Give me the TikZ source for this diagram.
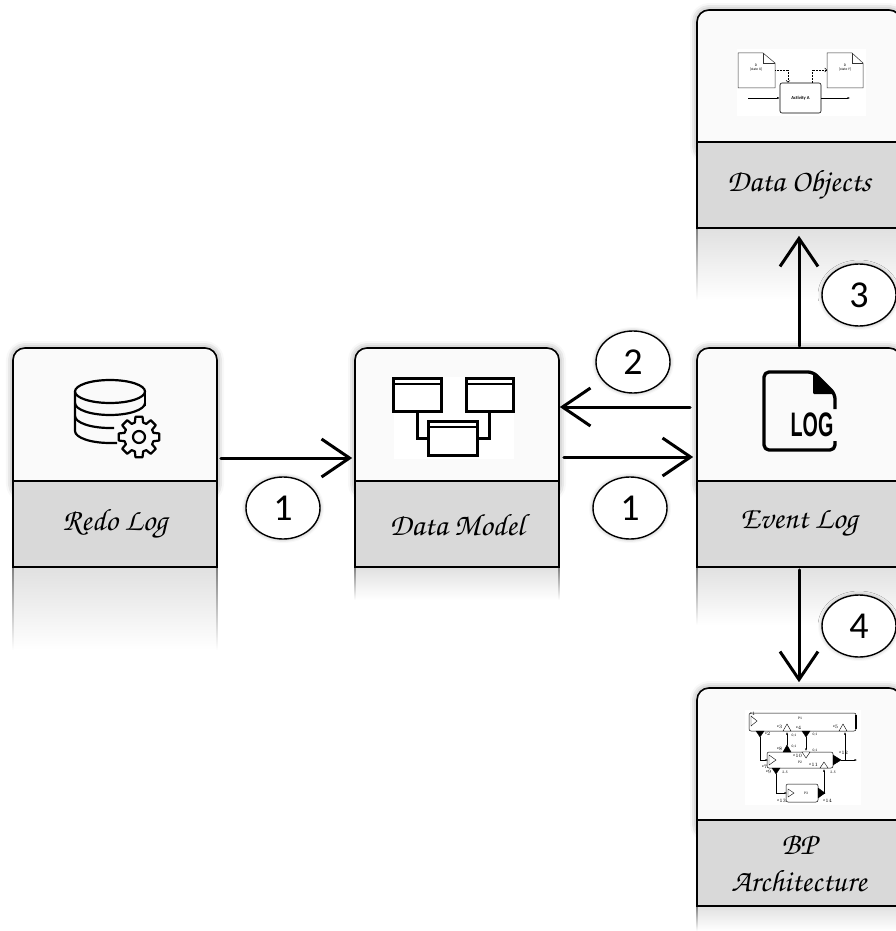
\documentclass[tikz,border=0pt]{standalone}
\usepackage{fontspec}
\setsansfont{Carlito}
\newfontfamily\logfont{Liberation Sans}
\usepackage{graphicx}
\usetikzlibrary{arrows.meta, shapes.geometric, shadows.blur}
\newcommand{\handfont}{\fontencoding{OT1}\fontfamily{pzc}\fontseries{mb}\fontshape{it}\fontsize{31}{37}\selectfont}
\newcommand{\tinyfont}{\sffamily\fontsize{3.6}{4}\selectfont}

\tikzset{
  card/.style={draw, line width=1.6pt, fill=black!2, rounded corners=12pt,
    minimum width=204pt, minimum height=148pt,
    blur shadow={shadow xshift=0pt, shadow yshift=0pt, shadow blur radius=7pt, shadow opacity=45}},
  cardlabel/.style={draw, line width=1.6pt, fill=black!15, minimum width=204pt,
    minimum height=86pt, inner sep=0pt, align=center, font=\handfont},
  mirror/.style={top color=black!12, bottom color=white},
  mirrorside/.style={top color=black!50, bottom color=white},
  badge/.style={draw, ellipse, line width=1.4pt, fill=white, minimum width=74pt,
    minimum height=62pt, inner sep=0pt, font=\sffamily\fontsize{38}{38}\selectfont,
    blur shadow={shadow xshift=0pt, shadow yshift=0pt, shadow blur radius=4pt, shadow opacity=35}},
  flow/.style={line width=3pt, line cap=round, -{Straight Barb[length=28pt, width=38pt]}},
  tinyarrow/.style={line width=0.4pt, -{Latex[length=2.5pt, width=2pt]}},
  dotarrow/.style={line width=0.5pt, densely dotted, -{Straight Barb[length=2pt, width=4pt]}},
  tri/.style={line width=0.4pt, draw, fill=black},
  otri/.style={line width=0.4pt, draw, fill=white},
}

\begin{document}
\begin{tikzpicture}[x=1pt, y=-1pt]
\useasboundingbox (0,0) rectangle (895,931);

% reflections under the cards
\shade[mirror] (13,567) rectangle (217,650);
\shade[mirrorside] (12.2,567) rectangle (13.8,650);
\shade[mirrorside] (216.2,567) rectangle (217.8,650);
\shade[mirror] (355,567) rectangle (559,600);
\shade[mirrorside] (354.2,567) rectangle (355.8,600);
\shade[mirrorside] (558.2,567) rectangle (559.8,600);
\shade[mirror] (697,567) rectangle (901,625);
\shade[mirrorside] (696.2,567) rectangle (697.8,625);
\shade[mirror] (697,228) rectangle (901,300);
\shade[mirrorside] (696.2,228) rectangle (697.8,300);
\shade[mirror] (697,906) rectangle (901,931);
\shade[mirrorside] (696.2,906) rectangle (697.8,931);

% cards
\node[card] (redo) at (115,422) {};
\node[card] (dm) at (457,422) {};
\node[card] (evt) at (799,422) {};
\node[card] (dobj) at (799,84) {};
\node[card] (bp) at (799,762) {};
\node[cardlabel] (redolbl) at (115,524) {Redo Log};
\node[cardlabel] (dmlbl) at (457,524) {Data Model};
\node[cardlabel] (evtlbl) at (799,524) {Event Log};
\node[cardlabel] (dobjlbl) at (799,185) {Data Objects};
\node[cardlabel] (bplbl) at (799,863) {BP\\Architecture};

% database with gear
\begin{scope}[line width=2.2pt]
  \draw (110,391.5) ellipse[x radius=35, y radius=11.5];
  \draw (75,391.5) -- (75,431) arc[start angle=180, end angle=90, x radius=35, y radius=12] -- (117,443);
  \draw (75,403) arc[start angle=180, end angle=0, x radius=35, y radius=12];
  \draw (145,391.5) -- (145,406);
  \draw (75,416) arc[start angle=180, end angle=90, x radius=35, y radius=12] -- (114,428);
\end{scope}
\begin{scope}[shift={(139,437)}, line width=2.2pt, line join=round]
  \draw[fill=black!2] (-16:15) foreach \a in {0,45,...,315} {-- (\a-16:15) -- (\a-10:20.5) -- (\a+10:20.5) -- (\a+16:15)} -- cycle;
  \draw (0,0) circle[radius=6];
\end{scope}

% tables of the data model
\fill[white] (394,377) rectangle (514,459);
\begin{scope}[line width=3pt]
  \draw (393,378) rectangle (441,411);
  \draw (466,378) rectangle (513,411);
  \draw (428,421) rectangle (477,455);
  \draw[line width=2.4pt] (393,384) -- (441,384);
  \draw[line width=2.4pt] (466,384) -- (513,384);
  \draw[line width=2.4pt] (428,427) -- (477,427);
  \draw (417,411) |- (428,438);
  \draw (489,411) |- (477,438);
\end{scope}

% log file
\begin{scope}[line width=3.3pt, line join=round]
  \draw[rounded corners=5pt] (835,409) -- (835,394) -- (813,372) -- (764,372) -- (764,450) -- (835,450) -- (835,441);
  \fill[rounded corners=1pt] (813,372) -- (835,394) -- (813,394) -- cycle;
\end{scope}
\node[inner sep=0pt, font=\logfont\bfseries\fontsize{34}{34}\selectfont] (logtxt) at (812,425) {\scalebox{0.58}[1]{LOG}};

% data objects sketch
\fill[white] (737,49) rectangle (866,116);
\begin{scope}[line width=0.5pt, draw=black!80]
  \draw (738,53) -- (763,53) -- (775,63) -- (775,88) -- (738,88) -- cycle;
  \draw (763,53) |- (775,63);
  \draw (827,53) -- (852,53) -- (863,63) -- (863,88) -- (827,88) -- cycle;
  \draw (852,53) |- (863,63);
\end{scope}
\node[font=\tinyfont, align=center, inner sep=0pt] (docx) at (756,68) {D\\[0pt][state X]};
\node[font=\tinyfont, align=center, inner sep=0pt] (docy) at (845,68) {D\\[0pt][state Y]};
\node[draw, line width=0.6pt, rounded corners=2pt, minimum width=41pt, minimum height=30pt,
  font=\sffamily\bfseries\fontsize{4.6}{5}\selectfont] (act) at (800.5,98) {Activity A};
\coordinate (flowin) at (748,98);
\coordinate (flowout) at (850,98);
\coordinate (xout) at (775,70);
\coordinate (yin) at (827,70);
\draw[tinyarrow] (flowin) -- (act.west);
\draw[tinyarrow] (act.east) -- (flowout);
\draw[dotarrow] (xout) -| ([xshift=-12.5pt]act.north);
\draw[dotarrow] ([xshift=11.5pt]act.north) |- (yin);

% process architecture sketch
\fill[white] (745,710) rectangle (861,805);
\begin{scope}[line width=0.5pt]
  \draw[rounded corners=2pt] (749,713) rectangle (856,731);
  \draw[line width=1.3pt] (856,715) -- (856,729);
  \draw[rounded corners=2pt] (767,752) rectangle (833,768);
  \draw[rounded corners=2pt] (786,784) rectangle (818,802);
\end{scope}
\node[font=\tinyfont] (p1) at (800,718) {P1};
\node[font=\tinyfont] (p2) at (800,762) {P2};
\node[font=\tinyfont] (p3) at (806,793) {P3};
% start and end events
\draw[otri] (751,716) -- (751,726) -- (757,721) -- cycle;
\draw[otri] (769,755) -- (769,765) -- (776,760) -- cycle;
\draw[otri] (788,789) -- (788,797) -- (794,793) -- cycle;
\draw[tri] (833,755) -- (833,765) -- (841,760) -- cycle;
\draw[tri] (818,788) -- (818,798) -- (825,793) -- cycle;
% ports
\draw[tri] (756,731) -- (764,731) -- (760,737) -- cycle;
\draw[otri] (783,731) -- (791,731) -- (787,724) -- cycle;
\draw[tri] (802,731) -- (810,731) -- (806,737) -- cycle;
\draw[otri] (839,731) -- (847,731) -- (843,724) -- cycle;
\draw[tri] (783,752) -- (791,752) -- (787,745) -- cycle;
\draw[otri] (802,752) -- (810,752) -- (806,758) -- cycle;
\draw[otri] (820,768) -- (828,768) -- (824,762) -- cycle;
\draw[tri] (772,768) -- (780,768) -- (776,774) -- cycle;
% links
\draw[tinyarrow] (760,737) |- (768,760);
\draw[tinyarrow] (787,745) -- (787,732);
\draw[tinyarrow] (806,737) -- (806,751);
\draw[tinyarrow] (841,760) -- (857,760);
\draw[tinyarrow] (845,760) -- (845,732);
\draw[tinyarrow] (776,774) |- (787,793);
\draw[tinyarrow] (825,793) -| (824,769);
% port labels
\begin{scope}[font=\tinyfont, inner sep=0pt]
  \node at (753,714) {e$_1$};
  \node at (768,734) {e$_2$};
  \node at (780,727) {e$_3$};
  \node at (799,728) {e$_4$};
  \node at (836,727) {e$_5$};
  \node at (794,736) {0,1};
  \node at (815,735) {0,1};
  \node at (765,767) {e$_7$};
  \node at (780,749) {e$_8$};
  \node at (794,747) {0,1};
  \node at (769,772) {e$_9$};
  \node at (798,756) {e$_{10}$};
  \node at (815,751) {0,1};
  \node at (814,765) {e$_{11}$};
  \node at (844,753) {e$_{12}$};
  \node at (785,772) {2..5};
  \node at (833,772) {2..5};
  \node at (782,801) {e$_{13}$};
  \node at (828,801) {e$_{14}$};
\end{scope}

% connectors between the cards
\draw[flow, shorten <=3pt, shorten >=2pt] ([yshift=-36pt]redo.east) -- ([yshift=-36pt]dm.west);
\draw[flow, shorten <=4pt, shorten >=3pt] ([yshift=-35pt]dm.east) -- ([yshift=-35pt]evt.west);
\draw[flow, shorten <=6pt] ([yshift=15pt]evt.west) -- ([yshift=15pt]dm.east);
\draw[flow, shorten <=1pt, shorten >=7pt] (evt.north) -- (dobjlbl.south);
\draw[flow, shorten <=2pt, shorten >=5pt] (evtlbl.south) -- (bp.north);

% step numbers
\node[badge] (one) at (283,508) {1};
\node[badge] (onebis) at (630,508) {1};
\node[badge] (two) at (633,362) {2};
\node[badge] (three) at (859,295) {3};
\node[badge] (four) at (859,626) {4};
\end{tikzpicture}
\end{document}
